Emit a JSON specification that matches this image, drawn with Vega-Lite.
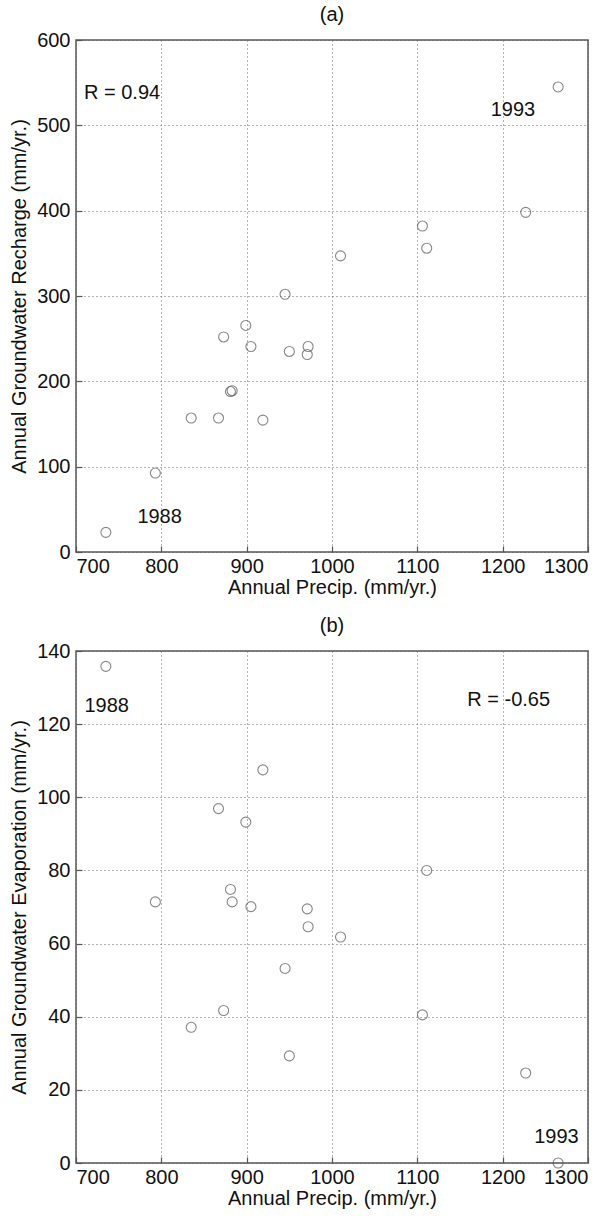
{
  "$schema": "https://vega.github.io/schema/vega-lite/v6.json",
  "background": "white",
  "padding": {"left": 8, "top": 4, "right": 5, "bottom": 5},
  "spacing": 17,
  "config": {
    "font": "Liberation Sans",
    "view": {"stroke": "#555555", "strokeWidth": 1.5},
    "axis": {
      "labelFont": "Liberation Sans", "labelFontSize": 20, "labelColor": "#111111",
      "titleFont": "Liberation Sans", "titleFontSize": 20, "titleFontWeight": "normal", "titleColor": "#111111",
      "domain": false, "grid": true, "gridColor": "#666666", "gridDash": [1, 3], "gridWidth": 1,
      "tickColor": "#555555", "tickSize": -6, "tickWidth": 1.2, "format": "d"
    },
    "axisX": {"labelPadding": 10, "titlePadding": 1},
    "axisY": {"labelPadding": 12, "titlePadding": 7},
    "title": {"font": "Liberation Sans", "fontSize": 20, "fontWeight": "normal", "color": "#111111", "offset": 5}
  },
  "datasets": {
    "pts": [
      {"precip": 735, "recharge": 23, "evap": 135.8},
      {"precip": 793, "recharge": 92.5, "evap": 71.4},
      {"precip": 835, "recharge": 157, "evap": 37.1},
      {"precip": 867, "recharge": 157, "evap": 96.9},
      {"precip": 873, "recharge": 252, "evap": 41.7},
      {"precip": 881, "recharge": 188, "evap": 74.8},
      {"precip": 883, "recharge": 189, "evap": 71.4},
      {"precip": 899, "recharge": 265.5, "evap": 93.2},
      {"precip": 905, "recharge": 240.8, "evap": 70.1},
      {"precip": 919, "recharge": 154.5, "evap": 107.5},
      {"precip": 945, "recharge": 302, "evap": 53.2},
      {"precip": 950, "recharge": 235, "evap": 29.3},
      {"precip": 971, "recharge": 231.4, "evap": 69.5},
      {"precip": 972, "recharge": 240.8, "evap": 64.6},
      {"precip": 1010, "recharge": 347, "evap": 61.8},
      {"precip": 1106, "recharge": 382, "evap": 40.5},
      {"precip": 1111, "recharge": 356, "evap": 80},
      {"precip": 1227, "recharge": 398, "evap": 24.6},
      {"precip": 1265, "recharge": 545, "evap": 0}
    ],
    "ann": [
      {"panel": "a", "label": "R = 0.94", "x": 754, "y": 538},
      {"panel": "a", "label": "1993", "x": 1212, "y": 518.5},
      {"panel": "a", "label": "1988", "x": 798, "y": 40.8},
      {"panel": "b", "label": "1988", "x": 736, "y": 125},
      {"panel": "b", "label": "R = -0.65", "x": 1207, "y": 126.5},
      {"panel": "b", "label": "1993", "x": 1263, "y": 7.1}
    ]
  },
  "vconcat": [
    {
      "title": {"text": "(a)"},
      "width": 512,
      "height": 512,
      "layer": [
        {
          "data": {"name": "pts"},
          "mark": {"type": "point", "shape": "circle", "filled": false, "size": 100, "stroke": "#555555", "strokeWidth": 1.1},
          "encoding": {
            "x": {"field": "precip", "type": "quantitative", "title": "Annual Precip. (mm/yr.)",
                  "scale": {"domain": [700, 1300], "nice": false, "zero": false},
                  "axis": {"values": [700, 800, 900, 1000, 1100, 1200, 1300]}},
            "y": {"field": "recharge", "type": "quantitative", "title": "Annual Groundwater Recharge (mm/yr.)",
                  "scale": {"domain": [0, 600], "nice": false},
                  "axis": {"values": [0, 100, 200, 300, 400, 500, 600]}}
          }
        },
        {
          "data": {"name": "ann"},
          "transform": [{"filter": "datum.panel == 'a'"}],
          "mark": {"type": "text", "fontSize": 20, "font": "Liberation Sans", "color": "#111111", "align": "center", "baseline": "middle"},
          "encoding": {
            "x": {"field": "x", "type": "quantitative", "title": "Annual Precip. (mm/yr.)"},
            "y": {"field": "y", "type": "quantitative", "title": "Annual Groundwater Recharge (mm/yr.)"},
            "text": {"field": "label"}
          }
        }
      ]
    },
    {
      "title": {"text": "(b)"},
      "width": 512,
      "height": 512,
      "layer": [
        {
          "data": {"name": "pts"},
          "mark": {"type": "point", "shape": "circle", "filled": false, "size": 100, "stroke": "#555555", "strokeWidth": 1.1},
          "encoding": {
            "x": {"field": "precip", "type": "quantitative", "title": "Annual Precip. (mm/yr.)",
                  "scale": {"domain": [700, 1300], "nice": false, "zero": false},
                  "axis": {"values": [700, 800, 900, 1000, 1100, 1200, 1300]}},
            "y": {"field": "evap", "type": "quantitative", "title": "Annual Groundwater Evaporation (mm/yr.)",
                  "scale": {"domain": [0, 140], "nice": false},
                  "axis": {"values": [0, 20, 40, 60, 80, 100, 120, 140]}}
          }
        },
        {
          "data": {"name": "ann"},
          "transform": [{"filter": "datum.panel == 'b'"}],
          "mark": {"type": "text", "fontSize": 20, "font": "Liberation Sans", "color": "#111111", "align": "center", "baseline": "middle"},
          "encoding": {
            "x": {"field": "x", "type": "quantitative", "title": "Annual Precip. (mm/yr.)"},
            "y": {"field": "y", "type": "quantitative", "title": "Annual Groundwater Evaporation (mm/yr.)"},
            "text": {"field": "label"}
          }
        }
      ]
    }
  ]
}
